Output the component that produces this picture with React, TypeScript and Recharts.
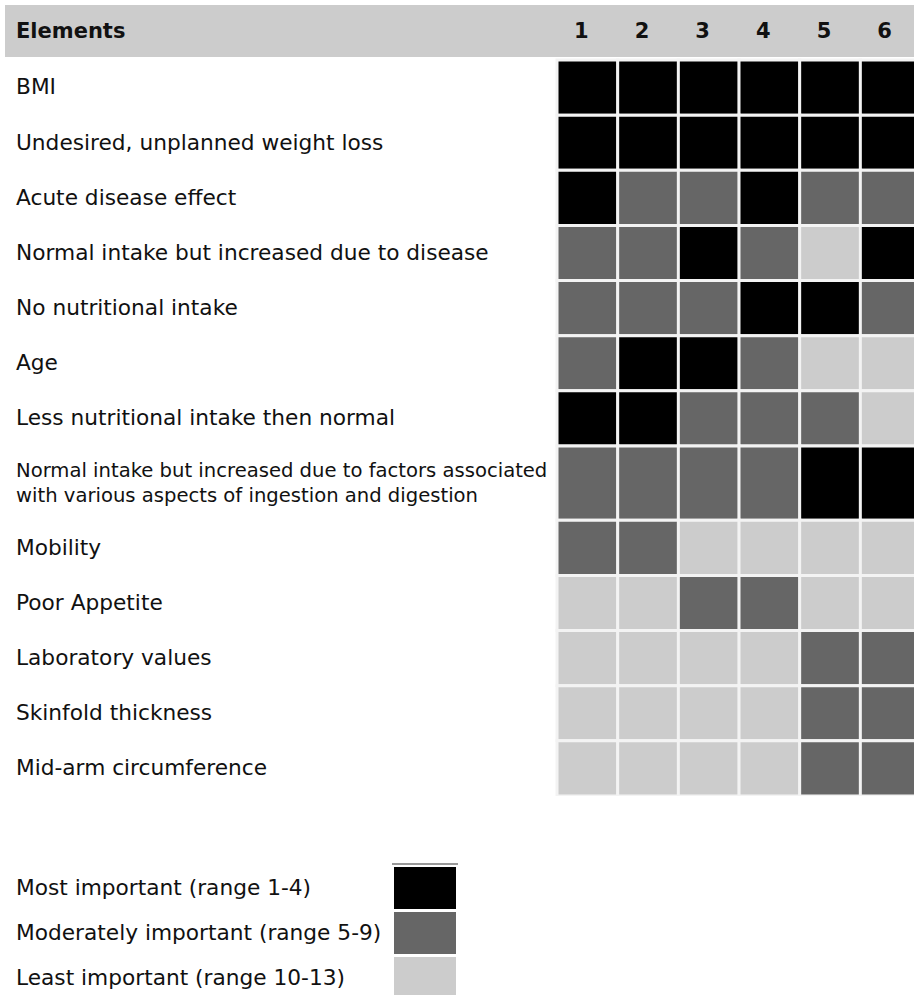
import React from "react";
import { BarChart, Bar, XAxis, YAxis, Cell } from "recharts";

// Rows of the table (element names), top to bottom
const ELEMENTS = [
  "BMI",
  "Undesired, unplanned weight loss",
  "Acute disease effect",
  "Normal intake but increased due to disease",
  "No nutritional intake",
  "Age",
  "Less nutritional intake then normal",
  "Normal intake but increased due to factors associated\nwith various aspects of ingestion and digestion",
  "Mobility",
  "Poor Appetite",
  "Laboratory values",
  "Skinfold thickness",
  "Mid-arm circumference",
];

const COLUMNS = ["1", "2", "3", "4", "5", "6"];

// 1 = most important, 2 = moderately important, 3 = least important
const IMPORTANCE = [
  [1, 1, 1, 1, 1, 1],
  [1, 1, 1, 1, 1, 1],
  [1, 2, 2, 1, 2, 2],
  [2, 2, 1, 2, 3, 1],
  [2, 2, 2, 1, 1, 2],
  [2, 1, 1, 2, 3, 3],
  [1, 1, 2, 2, 2, 3],
  [2, 2, 2, 2, 1, 1],
  [2, 2, 3, 3, 3, 3],
  [3, 3, 2, 2, 3, 3],
  [3, 3, 3, 3, 2, 2],
  [3, 3, 3, 3, 2, 2],
  [3, 3, 3, 3, 2, 2],
];

const LEGEND_LABELS = [
  "Most important (range 1-4)",
  "Moderately important (range 5-9)",
  "Least important (range 10-13)",
];

const COLORS: Record<number, string> = { 1: "#000000", 2: "#666666", 3: "#cccccc" };
const FONT = "'DejaVu Sans', Verdana, sans-serif";
const FS = 21.7;

// row height in axis units: two-line labels get a taller row
const spans = ELEMENTS.map((l) => (l.split("\n").length > 1 ? 1.35 : 1));
const centers: number[] = [];
let acc = 0;
spans.forEach((s) => {
  centers.push(acc + s / 2);
  acc += s;
});
const total = acc;

const chartData = COLUMNS.map((col) => {
  const row: Record<string, any> = { col };
  spans.forEach((s, i) => (row[`r${i}`] = s));
  return row;
});

function RowLabel(props: any) {
  const { y, payload } = props;
  const idx = centers.findIndex((c) => Math.abs(c - payload.value) < 1e-6);
  if (idx < 0) return null;
  const lines = ELEMENTS[idx].split("\n");
  const fs = lines.length > 1 ? 19.6 : FS;
  return (
    <text x={16} y={y} fontSize={fs} fill="#111" fontFamily={FONT}>
      {lines.map((ln, k) => (
        <tspan key={k} x={16} y={y + (k - (lines.length - 1) / 2) * 25 - 1} dy="0.36em">
          {ln}
        </tspan>
      ))}
    </text>
  );
}

function ColTick(props: any) {
  const { x, payload } = props;
  return (
    <text
      x={x - 6}
      y={31}
      textAnchor="middle"
      dominantBaseline="central"
      fontSize={21}
      fontWeight="bold"
      fill="#111"
      fontFamily={FONT}
    >
      {payload.value}
    </text>
  );
}

export default function App() {
  return (
    <div style={{ position: "relative", width: 914, height: 995, overflow: "hidden", fontFamily: FONT }}>
      <style>{"body{margin:0}"}</style>

      {/* header bar */}
      <div
        style={{
          position: "absolute",
          left: 5,
          top: 5,
          width: 920,
          height: 52,
          background: "#cccccc",
        }}
      >
        <span
          style={{
            position: "absolute",
            left: 11,
            top: 0,
            lineHeight: "52px",
            fontSize: 21,
            fontWeight: "bold",
            color: "#111",
          }}
        >
          Elements
        </span>
      </div>

      <div style={{ position: "absolute", left: 0, top: 0 }}>
        <BarChart
          width={921}
          height={796}
          data={chartData}
          margin={{ top: 0, right: 0, bottom: 0, left: 0 }}
          barCategoryGap={0}
          barGap={0}
        >
          <XAxis
            dataKey="col"
            orientation="top"
            height={60}
            axisLine={false}
            tickLine={false}
            interval={0}
            tick={<ColTick />}
          />
          <YAxis
            type="number"
            domain={[0, total]}
            reversed
            ticks={centers}
            interval={0}
            width={557}
            axisLine={false}
            tickLine={false}
            tick={<RowLabel />}
          />
          {ELEMENTS.map((_, i) => (
            <Bar
              key={i}
              dataKey={`r${i}`}
              stackId="grid"
              isAnimationActive={false}
              stroke="#f3f3f3"
              strokeWidth={3}
            >
              {COLUMNS.map((c, j) => (
                <Cell key={c} fill={COLORS[IMPORTANCE[i][j]]} />
              ))}
            </Bar>
          ))}
        </BarChart>
      </div>

      {/* legend */}
      <div
        style={{
          position: "absolute",
          left: 392,
          top: 863,
          width: 66,
          height: 2,
          background: "#999",
        }}
      />
      {LEGEND_LABELS.map((label, i) => (
        <div key={label}>
          <div
            style={{
              position: "absolute",
              left: 16,
              top: 867 + i * 45,
              height: 42,
              lineHeight: "42px",
              fontSize: FS,
              color: "#111",
              whiteSpace: "nowrap",
            }}
          >
            {label}
          </div>
          <div
            style={{
              position: "absolute",
              left: 394,
              top: 867 + i * 45,
              width: 62,
              height: 42,
              background: COLORS[i + 1],
            }}
          />
        </div>
      ))}
    </div>
  );
}
